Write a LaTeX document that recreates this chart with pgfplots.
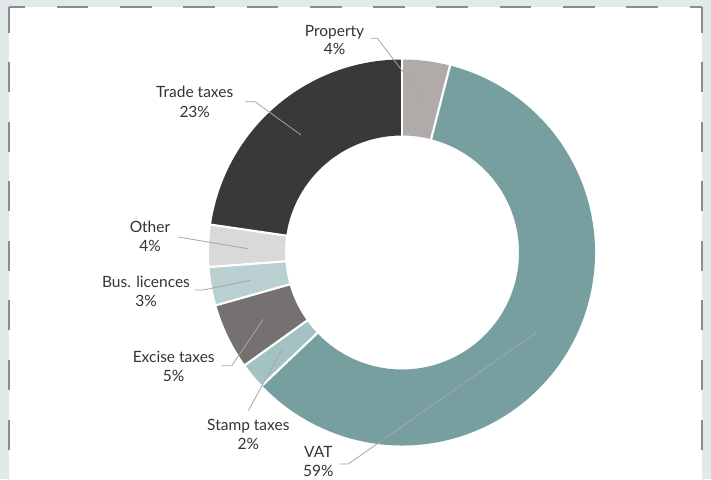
\documentclass[border=0pt]{standalone}
\usepackage{pgfplots}
\usepackage{pgfplotstable}
\pgfplotsset{compat=1.18}
\usepackage{fontspec}
\setmainfont{Lato}
\definecolor{bgcol}{HTML}{E1E9EB}
\definecolor{bordercol}{HTML}{8C8C8C}
\definecolor{txtcol}{HTML}{333333}
\definecolor{leadcol}{HTML}{A6A6A6}
\definecolor{cProp}{HTML}{B0ABA9}
\definecolor{cVAT}{HTML}{789FA0}
\definecolor{cStamp}{HTML}{A3C2C3}
\definecolor{cExc}{HTML}{767171}
\definecolor{cBus}{HTML}{B9CFD0}
\definecolor{cOther}{HTML}{D9D9D9}
\definecolor{cTrade}{HTML}{3B3838}
% shares in percent, clockwise from 12 o'clock
\pgfplotstableread{
value color
4.0 cProp
58.9 cVAT
2.2 cStamp
5.5 cExc
3.2 cBus
3.5 cOther
22.7 cTrade
}\donutdata
\newcommand{\lab}{\fontsize{15.5}{18}\selectfont}
\begin{document}
\begin{tikzpicture}
\begin{axis}[width=711pt,height=479pt,scale only axis,
  xmin=0,xmax=711,ymin=0,ymax=479,hide axis,clip=false]
\fill[bgcol] (axis cs:0,0) rectangle (axis cs:711,479);
\fill[white] (axis cs:9,0) rectangle (axis cs:702,472);
\draw[bordercol,line width=1.4pt,dash pattern=on 31.7pt off 31.6pt,dash phase=15.7pt]
  (axis cs:9,472) -- (axis cs:702,472);
\draw[bordercol,line width=1.4pt,dash pattern=on 30pt off 29.5pt,dash phase=4pt]
  (axis cs:9,472) -- (axis cs:9,0);
\draw[bordercol,line width=1.4pt,dash pattern=on 30pt off 29.5pt,dash phase=4pt]
  (axis cs:702,472) -- (axis cs:702,0);
\pgfplotsextra{
  \pgfplotstablegetrowsof{\donutdata}
  \pgfmathtruncatemacro{\nlast}{\pgfplotsretval-1}
  \xdef\angcur{90}
  \foreach \i in {0,...,\nlast}{
    \pgfplotstablegetelem{\i}{value}\of{\donutdata}
    \pgfmathsetmacro{\angnext}{\angcur-3.6*\pgfplotsretval}
    \pgfplotstablegetelem{\i}{color}\of{\donutdata}
    \edef\segcol{\pgfplotsretval}
    \fill[\segcol,shift={(axis cs:402,226.5)}] (\angcur:193pt)
      arc[start angle=\angcur,end angle=\angnext,radius=193pt]
      -- (\angnext:117pt)
      arc[start angle=\angnext,end angle=\angcur,radius=117pt] -- cycle;
    \xdef\angcur{\angnext}
  }
  \xdef\angcur{90}
  \foreach \i in {0,...,\nlast}{
    \pgfplotstablegetelem{\i}{value}\of{\donutdata}
    \pgfmathsetmacro{\angnext}{\angcur-3.6*\pgfplotsretval}
    \draw[white,line width=2.2pt,shift={(axis cs:402,226.5)}] (\angcur:114pt) -- (\angcur:196pt);
    \xdef\angcur{\angnext}
  }
}
% leader lines
\draw[leadcol,line width=0.8pt] (axis cs:370.7,440.7) -- (axis cs:377.3,440.7) -- (axis cs:423.3,380.7);
\draw[leadcol,line width=0.8pt] (axis cs:245,377.3) -- (axis cs:255,377.3) -- (axis cs:301,344);
\draw[leadcol,line width=0.8pt] (axis cs:178.3,242) -- (axis cs:247.7,230.3);
\draw[leadcol,line width=0.8pt] (axis cs:195,189) -- (axis cs:203.3,189) -- (axis cs:250,198.5);
\draw[leadcol,line width=0.8pt] (axis cs:221.7,113.3) -- (axis cs:231.7,113.3) -- (axis cs:263.3,159.7);
\draw[leadcol,line width=0.8pt] (axis cs:248.3,68.3) -- (axis cs:281.7,129);
\draw[leadcol,line width=0.8pt] (axis cs:339.3,15) -- (axis cs:348.3,15) -- (axis cs:536,146.3);
% labels
\tikzset{lbl/.style={anchor=base,font=\lab,text=txtcol,inner sep=0pt}}
\node[lbl] at (axis cs:334.5,442.3) {Property};
\node[lbl] at (axis cs:334.5,424) {4\%};
\node[lbl] at (axis cs:194.7,381.7) {Trade taxes};
\node[lbl] at (axis cs:194.7,361.7) {23\%};
\node[lbl] at (axis cs:150,246.7) {Other};
\node[lbl] at (axis cs:150,227.3) {4\%};
\node[lbl] at (axis cs:146,191.7) {Bus. licences};
\node[lbl] at (axis cs:146,172.5) {3\%};
\node[lbl] at (axis cs:173.7,116.3) {Excise taxes};
\node[lbl] at (axis cs:173.7,97.5) {5\%};
\node[lbl] at (axis cs:248.3,49) {Stamp taxes};
\node[lbl] at (axis cs:248.3,30) {2\%};
\node[lbl] at (axis cs:318.3,21.5) {VAT};
\node[lbl] at (axis cs:318.3,3) {59\%};
\end{axis}
\pgfresetboundingbox
\path[use as bounding box] (current axis.south west) rectangle (current axis.north east);
\end{tikzpicture}
\end{document}
